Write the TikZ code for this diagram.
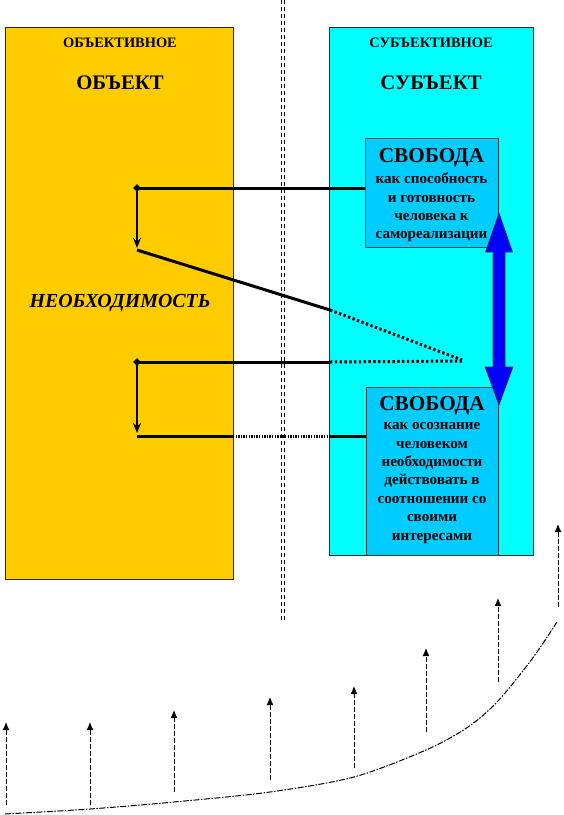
\documentclass[tikz,border=0pt]{standalone}
\usepackage{fontspec}
\setmainfont{Liberation Serif}
\usetikzlibrary{arrows.meta,shapes.geometric}
\definecolor{objyellow}{HTML}{FFCC00}
\definecolor{subcyan}{HTML}{00FFFF}
\definecolor{freeblue}{HTML}{00CCFF}
\definecolor{arrowblue}{HTML}{0000FF}
\tikzset{
  bigbox/.style={draw=black!85, line width=0.9pt, anchor=north west, inner sep=0pt},
  freebox/.style={draw=black!75, line width=0.9pt, fill=freeblue, anchor=north west, inner sep=0pt},
  smallhead/.style={font=\fontsize{14.4}{17}\selectfont\bfseries},
  bighead/.style={font=\fontsize{20.7}{24}\selectfont\bfseries},
  freetitle/.style={font=\fontsize{21.2}{25}\selectfont\bfseries},
  freetext/.style={font=\fontsize{15.1}{18.4}\selectfont\bfseries, align=center, inner sep=0pt},
  marker/.style={diamond, fill=black, inner sep=0pt, minimum size=8pt},
  conn/.style={line width=3pt, black},
  connv/.style={line width=2.5pt, black, -{Stealth[length=10pt,width=8pt]}},
  dots/.style={line width=3pt, dash pattern=on 2.4pt off 2.4pt},
  densedots/.style={line width=3pt, dash pattern=on 1.3pt off 1.3pt},
  growth/.style={line width=1pt, -{Latex[length=8pt,width=7pt]}, dash pattern=on 5pt off 2pt},
}
\begin{document}
\begin{tikzpicture}[x=1pt,y=-1pt]
\useasboundingbox (0,0) rectangle (564,815);

% separating double dashed line
\draw[line width=1pt, dash pattern=on 4pt off 3pt] (281,0) -- (281,621);
\draw[line width=1pt, dash pattern=on 4pt off 3pt] (284.5,0) -- (284.5,621);

% main boxes
\node[bigbox, fill=objyellow, minimum width=228pt, minimum height=552pt] (obj) at (5,27) {};
\node[bigbox, fill=subcyan, minimum width=204pt, minimum height=528pt] (sub) at (329,27) {};

\node[smallhead] (objt) at (120,43) {ОБЪЕКТИВНОЕ};
\node[bighead] (objb) at (120,83) {ОБЪЕКТ};
\node[smallhead] (subt) at (431,43) {СУБЪЕКТИВНОЕ};
\node[bighead] (subb) at (431,83) {СУБЪЕКТ};

\node[font=\fontsize{19.9}{23}\selectfont\bfseries\itshape] (need) at (120,303) {НЕОБХОДИМОСТЬ};

% freedom boxes
\node[freebox, minimum width=133pt, minimum height=109pt] (free1) at (365,138) {};
\node[freebox, minimum width=132pt, minimum height=168pt] (free2) at (366,387) {};

\node[freetitle] (f1t) at (431.5,158) {СВОБОДА};
\node[freetext] (f1b) at (431.5,207.5) {как способность\\и готовность\\человека к\\самореализации};
\node[freetitle] (f2t) at (432,406) {СВОБОДА};
\node[freetext] (f2b) at (432,483) {как осознание\\человеком\\необходимости\\действовать в\\соотношении со\\своими\\интересами};

% blue double arrow
\fill[arrowblue, draw=black!80, line width=0.6pt]
  (499,213) -- (512.5,252) -- (505,252) -- (505,367) -- (513,367) -- (499,405)
  -- (485,367) -- (493,367) -- (493,252) -- (485.5,252) -- cycle;

% connectors
\node[marker] (d1) at (137,188) {};
\node[marker] (d2) at (137,362) {};
\coordinate (a1) at (137,248);
\coordinate (a2) at (137,433);
\coordinate (s1) at (137,250);
\coordinate (m1) at (330,310);
\coordinate (e1) at (462,360);
\coordinate (m2) at (330,362);
\coordinate (e2) at (462,361);
\coordinate (s3) at (137,436);
\coordinate (p3) at (233,436);
\coordinate (q3) at (330,436);

\draw[conn] (d1.center) -- (free1.west |- d1.center);
\draw[connv] (d1.center) -- (a1);
\draw[conn] (s1) -- (m1);
\draw[dots] (m1) -- (e1);

\draw[conn] (d2.center) -- (m2);
\draw[dots] (m2) -- (e2);
\draw[connv] (d2.center) -- (a2);

\draw[conn] (s3) -- (p3);
\draw[densedots] (p3) -- (q3);
\draw[conn] (q3) -- (free2.west |- s3);

% growth curve
\draw[line width=1pt, dash pattern=on 6pt off 1.5pt on 1.5pt off 1.5pt]
  plot[smooth] coordinates {(5,814) (90,809) (174,802) (270,792) (354,777) (426,750) (468,727) (498,701) (532,659) (557,622)};

% growth arrows
\foreach \i/\x/\t/\b in {1/6/722/805, 2/90/722/805, 3/174/710/792, 4/270/697/780, 5/354/686/768, 6/426/648/732, 7/498/598/682, 8/558/524/607}{
  \coordinate (gb\i) at (\x,\b);
  \coordinate (gt\i) at (\x,\t);
  \draw[growth] (gb\i) -- (gt\i);
}
\end{tikzpicture}
\end{document}
